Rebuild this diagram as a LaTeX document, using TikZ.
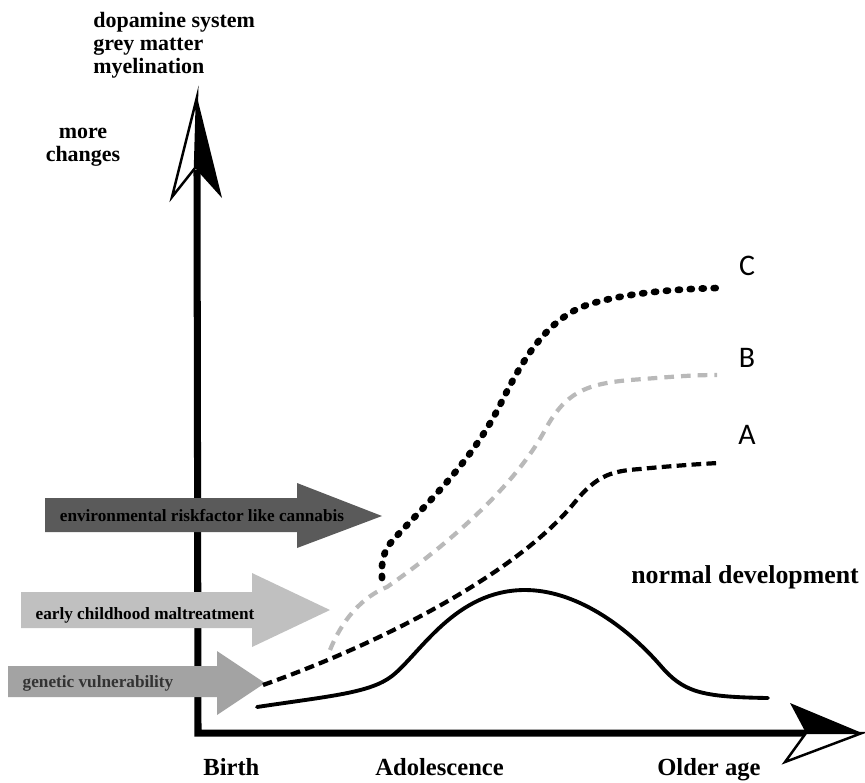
\documentclass[tikz,border=0pt]{standalone}
\usepackage{fontspec}
\setmainfont{Liberation Serif}
\newfontfamily\letterfont{Carlito}

\definecolor{riskdark}{HTML}{5A5A5A}
\definecolor{riskmid}{HTML}{A3A3A3}
\definecolor{risklight}{HTML}{C0C0C0}
\definecolor{pathgrey}{HTML}{B9B9B9}

\begin{document}
\begin{tikzpicture}[
            x = 0.02cm, y = -0.02cm, % one unit = one pixel of the sketch
            axis/.style = {line width=4pt, line join=miter},
            tiphollow/.style = {fill=white, draw=black, line width=1.4pt, line join=miter},
            normal/.style = {line width=2.2pt, line cap=round},
            pathA/.style = {line width=2.4pt, dash pattern=on 5.5pt off 3pt},
            pathB/.style = {line width=2.4pt, pathgrey, dash pattern=on 5.5pt off 4pt},
            pathC/.style = {line width=3.8pt, line cap=round, dash pattern=on 1.2pt off 5.6pt},
            label/.style = {font=\bfseries\fontsize{12.5}{13}\selectfont, inner sep=0pt},
            agelabel/.style = {font=\bfseries\fontsize{14}{16}\selectfont, inner sep=0pt, anchor=base west},
            risktext/.style = {font=\bfseries\fontsize{9.8}{11}\selectfont, inner sep=0pt},
            letter/.style = {font=\letterfont\fontsize{17}{19}\selectfont, inner sep=0pt}
        ]
	\useasboundingbox (0,0) rectangle (865,782);

	% axes
	\draw[axis] (197,170) -- (198,733) -- (806,733);
	\draw[tiphollow] (197,97) -- (172,197) -- (195,168) -- cycle;
	\fill (197,97) -- (222,198) -- (195,168) -- cycle;
	\fill (862,733) -- (790,703) -- (806,733) -- cycle;
	\draw[tiphollow] (862,733) -- (785,762) -- (806,733) -- cycle;

	% risk factors
	\fill[riskdark] (45,498) -- (297,498) -- (297,483) -- (382,516) -- (297,548) -- (297,532) -- (45,532) -- cycle;
	\fill[risklight] (21,592) -- (252,592) -- (252,573) -- (330,610) -- (252,647) -- (252,628) -- (21,628) -- cycle;
	\fill[riskmid] (8,666) -- (217,666) -- (217,651) -- (265,683) -- (217,715) -- (217,697) -- (8,697) -- cycle;
	\node[risktext] (env) at (202,516) {environmental riskfactor like cannabis};
	\node[risktext] (early) at (145,615) {early childhood maltreatment};
	\node[risktext, text=black!80] (genetic) at (98,683) {genetic vulnerability};

	% developmental paths
	\draw[normal] (257,707) .. controls (330,696) and (370,693) .. (392,676)
	  .. controls (420,654) and (455,590) .. (525,590)
	  .. controls (575,590) and (625,625) .. (660,665)
	  .. controls (683,692) and (700,697) .. (768,698);
	\draw[pathA] (263,685) .. controls (390,640) and (520,570) .. (575,502)
	  .. controls (597,475) and (612,471) .. (640,469)
	  .. controls (670,466) and (700,464) .. (718,463);
	\draw[pathB] (330,650) .. controls (338,630) and (355,600) .. (387,587)
	  .. controls (430,557) and (510,495) .. (545,430)
	  .. controls (565,393) and (585,384) .. (630,380)
	  .. controls (670,377) and (690,375) .. (717,375);
	\draw[pathC] (382,578) .. controls (381,560) and (384,550) .. (393,540)
	  .. controls (420,510) and (470,465) .. (500,405)
	  .. controls (520,365) and (545,318) .. (590,304)
	  .. controls (630,292) and (680,289) .. (718,288);

	% texts
	\node[label, align=left, anchor=north west] (system) at (93,12) {dopamine system\\grey matter\\myelination};
	\node[label, align=center, anchor=north] (more) at (83,128) {more\\changes};
	\node[agelabel] (birth) at (203,775) {Birth};
	\node[agelabel] (adol) at (375,775) {Adolescence};
	\node[agelabel] (older) at (657,775) {Older age};
	\node[agelabel, font=\bfseries\fontsize{14.7}{16}\selectfont] (normal) at (631,583) {normal development};
	\node[letter] (C) at (747,266) {C};
	\node[letter] (B) at (747,358) {B};
	\node[letter] (A) at (747,435) {A};

\end{tikzpicture}
\end{document}
